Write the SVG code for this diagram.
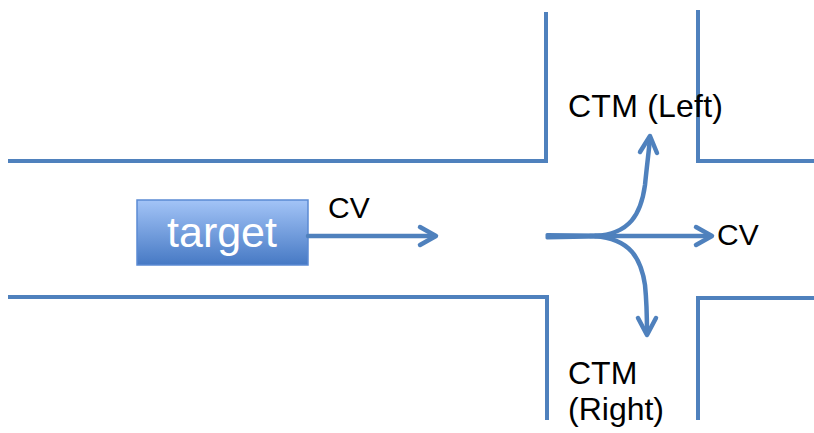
<svg xmlns="http://www.w3.org/2000/svg" width="814" height="433" viewBox="0 0 814 433">
<style>
.road{fill:none;stroke:#4f81bd;stroke-width:4;}
.arr{fill:none;stroke:#4f81bd;stroke-width:4.5;stroke-linecap:round;stroke-linejoin:round;}
.lbl{font-family:"Liberation Sans",Arial,sans-serif;font-size:30px;fill:#000;}
.big{font-size:32px;}
</style>
<defs>
<linearGradient id="g" x1="0" y1="0" x2="0" y2="1">
<stop offset="0" stop-color="#a3c4f7"/>
<stop offset="1" stop-color="#4679c4"/>
</linearGradient>
</defs>
<g id="roads">
<polyline class="road" points="8,161 546,161 546,12"/>
<polyline class="road" points="814,161 698,161 698,10"/>
<polyline class="road" points="8,297 547,297 547,420"/>
<polyline class="road" points="814,298 698,298 698,420"/>
</g>
<g id="target">
<rect x="137" y="200" width="171" height="65" fill="url(#g)" stroke="#5b8ad3" stroke-width="1.5"/>
<text x="222" y="247" text-anchor="middle" font-family="'Liberation Sans',Arial,sans-serif" font-size="43" fill="#fff">target</text>
</g>
<g id="connectors">
<line class="arr" x1="308" y1="236" x2="435" y2="236"/>
<polyline class="arr" points="420,227 436,236 420,245"/>
<path d="M547,234.5 L600,235 L600,237 L547,238 Z" fill="#4f81bd" stroke="#4f81bd" stroke-width="3" stroke-linejoin="round"/>
<line class="arr" x1="590" y1="236" x2="711" y2="236"/>
<polyline class="arr" points="696,227 712,236 696,245"/>
<path class="arr" d="M595,236 C630,234 641,214 645,185 C647,165 649,150 650,138"/>
<polyline class="arr" points="640,152 650,136 657,153"/>
<path class="arr" d="M595,236 C630,239 641,258 645,285 C647,305 647,320 647,334"/>
<polyline class="arr" points="638,318 647,335 656,318"/>
</g>
<g id="labels">
<text class="lbl" x="328" y="218">CV</text>
<text class="lbl" x="717" y="245">CV</text>
<text class="lbl big" x="568" y="117" textLength="155">CTM (Left)</text>
<text class="lbl big" x="568" y="384">CTM</text>
<text class="lbl big" x="568" y="420">(Right)</text>
</g>
</svg>
